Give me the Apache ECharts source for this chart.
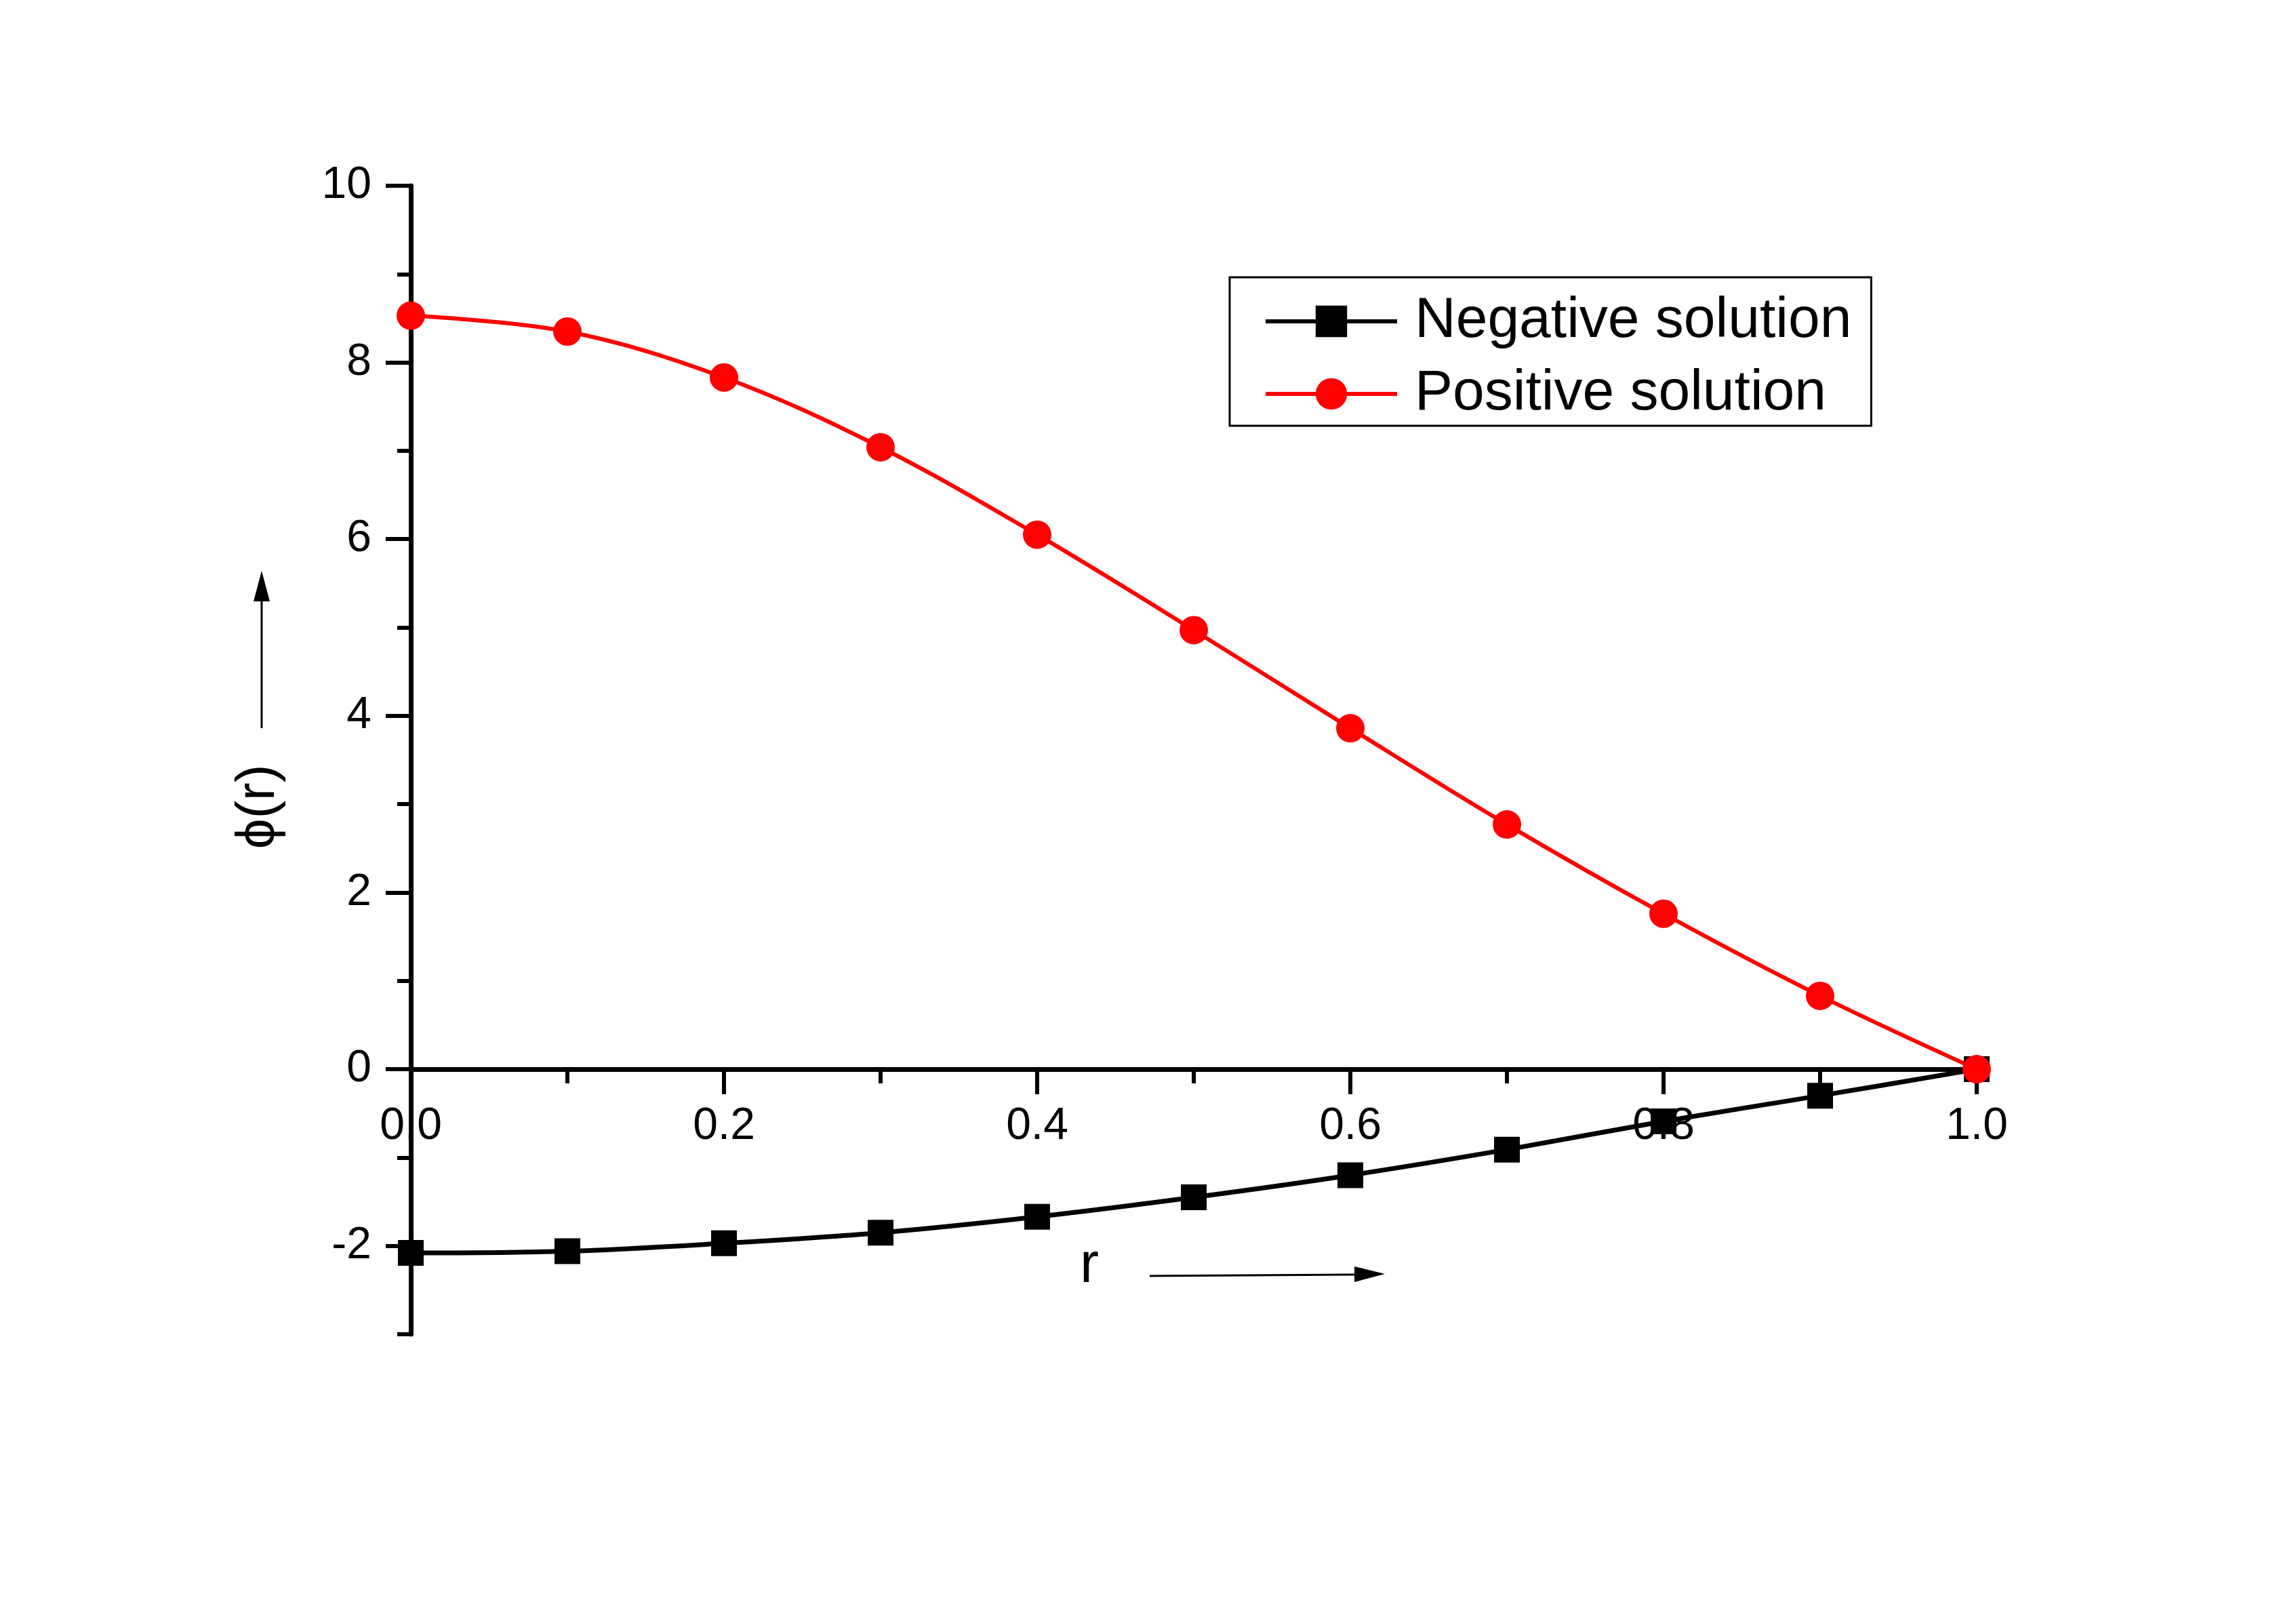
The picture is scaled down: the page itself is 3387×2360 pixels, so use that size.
<!DOCTYPE html>
<html>
<head>
<meta charset="utf-8">
<script src="https://cdn.jsdelivr.net/npm/echarts@6/dist/echarts.min.js"></script>
<style>
  html, body { margin: 0; padding: 0; background: #fff; }
  #chart { width: 3387px; height: 2360px; }
</style>
</head>
<body>
<div id="chart"></div>
<script>
var rValues = [0, 0.1, 0.2, 0.3, 0.4, 0.5, 0.6, 0.7, 0.8, 0.9, 1.0];
var negativeSolution = [-2.08, -2.06, -1.97, -1.85, -1.67, -1.45, -1.20, -0.91, -0.59, -0.30, 0];
var positiveSolution = [8.53, 8.35, 7.83, 7.04, 6.05, 4.97, 3.86, 2.77, 1.76, 0.83, 0];
var yLabelTicks = [-2, 0, 2, 4, 6, 8, 10];
var yMinorTicks = [-3, -1, 1, 3, 5, 7, 9];
var yMin = -3, yMax = 10;

var font = "'Liberation Sans', Arial, sans-serif";

var gridTop = 274, gridBottom = 392;
var gridHeight = 2360 - gridTop - gridBottom;
// x axis sits on y = 0, so lift the whole axis (line, ticks, labels) up to it
var xAxisOffset = -gridHeight * (0 - yMin) / (yMax - yMin);

function pairs(ys) {
  return rValues.map(function (r, i) { return [r, ys[i]]; });
}

var option = {
  backgroundColor: '#fff',
  animation: false,
  grid: { left: 606, right: 471, top: gridTop, bottom: gridBottom, containLabel: false },
  legend: {
    orient: 'vertical',
    left: 1814,
    top: 409,
    padding: [23, 29, 5, 50],
    itemGap: 23,
    itemWidth: 194,
    itemHeight: 58,
    borderColor: '#000',
    borderWidth: 3,
    lineStyle: { width: 6 },
    textStyle: { fontFamily: font, fontSize: 84, lineHeight: 84, color: '#000', padding: [0, 0, 0, 21] },
    data: ['Negative solution', 'Positive solution']
  },
  xAxis: {
    type: 'value',
    min: 0,
    max: 1,
    interval: 0.2,
    offset: xAxisOffset,
    axisLine: { onZero: false, lineStyle: { color: '#000', width: 7 } },
    axisTick: { length: 37, lineStyle: { color: '#000', width: 6 } },
    minorTick: { show: true, splitNumber: 2, length: 21, lineStyle: { color: '#000', width: 6 } },
    splitLine: { show: false },
    axisLabel: {
      margin: 52,
      fontFamily: font,
      fontSize: 66,
      color: '#000',
      formatter: function (v) { return v.toFixed(1); }
    }
  },
  yAxis: [
    {
      type: 'value',
      min: yMin,
      max: yMax,
      interval: 1,
      axisLine: { show: true, onZero: false, lineStyle: { color: '#000', width: 7 } },
      axisTick: { show: true, length: 37, customValues: yLabelTicks, lineStyle: { color: '#000', width: 6 } },
      splitLine: { show: false },
      axisLabel: {
        margin: 58,
        fontFamily: font,
        fontSize: 66,
        color: '#000',
        customValues: yLabelTicks
      }
    },
    {
      type: 'value',
      min: yMin,
      max: yMax,
      interval: 1,
      position: 'left',
      axisLine: { show: false, onZero: false },
      axisTick: { show: true, length: 20, customValues: yMinorTicks, lineStyle: { color: '#000', width: 6 } },
      splitLine: { show: false },
      axisLabel: { show: false }
    }
  ],
  series: [
    {
      name: 'Negative solution',
      type: 'line',
      smooth: 0.35,
      symbol: 'rect',
      symbolSize: 38,
      itemStyle: { color: '#000' },
      lineStyle: { color: '#000', width: 7 },
      data: pairs(negativeSolution)
    },
    {
      name: 'Positive solution',
      type: 'line',
      smooth: 0.35,
      symbol: 'circle',
      symbolSize: 42,
      itemStyle: { color: '#ff0000' },
      lineStyle: { color: '#ff0000', width: 6 },
      data: pairs(positiveSolution)
    }
  ],
  graphic: [
    {
      type: 'text',
      x: 382, y: 1190,
      rotation: Math.PI / 2,
      style: { text: 'ϕ(r)', fontFamily: font, fontSize: 80, fill: '#000', align: 'center', verticalAlign: 'middle' }
    },
    { type: 'line', shape: { x1: 386, y1: 1074, x2: 386, y2: 885 }, style: { stroke: '#000', lineWidth: 3 } },
    { type: 'polygon', shape: { points: [[386, 842], [374, 887], [398, 887]] }, style: { fill: '#000' } },
    {
      type: 'text',
      x: 1607, y: 1868,
      style: { text: 'r', fontFamily: font, fontSize: 84, fill: '#000', align: 'center', verticalAlign: 'middle' }
    },
    { type: 'line', shape: { x1: 1696, y1: 1882, x2: 2000, y2: 1880 }, style: { stroke: '#000', lineWidth: 3 } },
    { type: 'polygon', shape: { points: [[2043, 1879], [1998, 1868], [1998, 1891]] }, style: { fill: '#000' } }
  ]
};

echarts.init(document.getElementById('chart')).setOption(option);
</script>
</body>
</html>
